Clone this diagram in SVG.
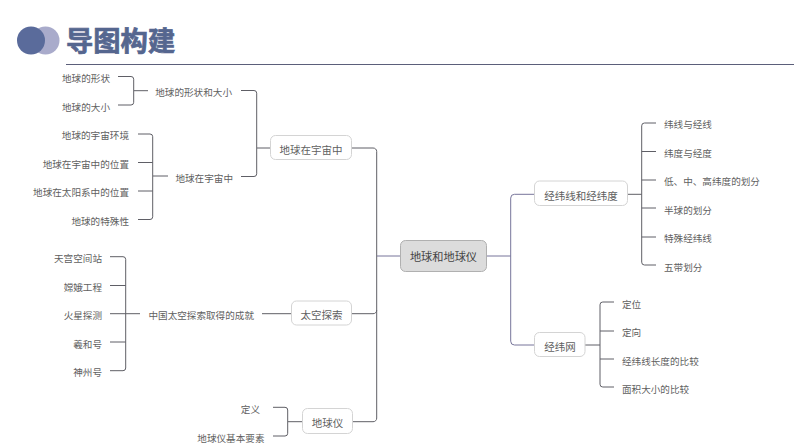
<svg xmlns="http://www.w3.org/2000/svg" width="794" height="447" viewBox="0 0 794 447">
<style>
text{font-family:"Noto Sans CJK SC","Noto Sans",sans-serif;fill:#5f5f5f;font-size:9.6px}
.r{text-anchor:end}
.m{text-anchor:middle;font-size:10.500px}
.n{fill:#fff;stroke:#d4d4d4;stroke-width:1}
#connectors path{fill:none;stroke:#5f5f66;stroke-width:1}
#connectors path.v{stroke:#77759a}
</style>
<rect width="794" height="447" fill="#fff"/>
<g id="title">
<circle cx="45.500" cy="40.500" r="14" fill="#a9abcb"/>
<circle cx="31" cy="40.500" r="14" fill="#5a6b9b"/>
<text x="66" y="51" style="font-size:27.300px;font-weight:700;fill:#55668f;stroke:#55668f;stroke-width:.7px">导图构建</text>
<path d="M66 64.500H794" stroke="#5b5f7a" stroke-width="1"/>
</g>
<g id="connectors">
<path d="M118 76.500H131a2.700 2.700 0 0 1 2.700 2.700V102.300a2.700 2.700 0 0 1-2.700 2.700H118M134 90.700H148"/>
<path d="M241 90.500H254a2.700 2.700 0 0 1 2.700 2.700V173.800a2.700 2.700 0 0 1-2.700 2.700H241M257 148H271"/>
<path d="M138 134H150a2.700 2.700 0 0 1 2.700 2.700V216.800a2.700 2.700 0 0 1-2.700 2.700H138M138 162.500H152.700M138 191H152.700M153 176H168"/>
<path d="M110 256.700H123a2.700 2.700 0 0 1 2.700 2.700V368a2.700 2.700 0 0 1-2.700 2.700H110M110 285.500H125.700M110 313.700H140M110 342H125.700"/>
<path d="M262 313.700H292"/>
<path d="M273 407.300H285a2.700 2.700 0 0 1 2.700 2.700V433.300a2.700 2.700 0 0 1-2.700 2.700H273M288 421.700H303"/>
<path d="M352 148H373a3.500 3.500 0 0 1 3.700 3.500V418a3.500 3.500 0 0 1-3.700 3.700H352M352 313.700H373a3.500 3.500 0 0 0 3.700-3.500"/>
<path class="v" d="M377 256H401"/>
<path class="v" d="M486 256H510.700M534.500 194.300H514.500a3.800 3.800 0 0 0-3.800 3.800V341.200a3.800 3.800 0 0 0 3.800 3.800H534.500"/>
<path d="M627.500 194.300H641.700M656 123H644.500a2.800 2.800 0 0 0-2.800 2.800V262.200a2.800 2.800 0 0 0 2.800 2.800H656M641.700 151.500H656M641.700 180H656M641.700 208H656M641.700 237H656"/>
<path d="M585 345H600M614 302H602.800a2.800 2.800 0 0 0-2.800 2.800V384.200a2.800 2.800 0 0 0 2.800 2.800H614M600 331H614M600 359H614"/>
</g>
<g id="root"><rect x="400.500" y="240.500" width="86" height="31" rx="5" fill="#dcdcdc" stroke="#b0b0b0"/><text x="443.500" y="261" class="m" style="font-size:11.200px;fill:#444">地球和地球仪</text></g>
<g id="n-universe"><rect class="n" x="270.500" y="135.500" width="81" height="24" rx="5"/><text x="311" y="154" class="m">地球在宇宙中</text></g>
<g id="n-space"><rect class="n" x="291.500" y="301" width="60" height="24" rx="5"/><text x="321.500" y="319" class="m">太空探索</text></g>
<g id="n-globe"><rect class="n" x="302.500" y="408.500" width="50" height="25" rx="5"/><text x="327.500" y="427" class="m">地球仪</text></g>
<g id="n-latlon"><rect class="n" x="534.500" y="181" width="93" height="24.500" rx="5"/><text x="581" y="200" class="m">经纬线和经纬度</text></g>
<g id="n-grid"><rect class="n" x="534.500" y="332.500" width="50.500" height="24" rx="5"/><text x="560" y="351" class="m">经纬网</text></g>
<g id="l1"><text x="110" y="82" class="r">地球的形状</text></g>
<g id="l2"><text x="110" y="110.500" class="r">地球的大小</text></g>
<g id="l3"><text x="232" y="96" class="r">地球的形状和大小</text></g>
<g id="l4"><text x="233" y="182" class="r">地球在宇宙中</text></g>
<g id="l5"><text x="129" y="139" class="r">地球的宇宙环境</text></g>
<g id="l6"><text x="129" y="167.500" class="r">地球在宇宙中的位置</text></g>
<g id="l7"><text x="129" y="196" class="r">地球在太阳系中的位置</text></g>
<g id="l8"><text x="129" y="224.500" class="r">地球的特殊性</text></g>
<g id="l9"><text x="102" y="262" class="r">天宫空间站</text></g>
<g id="l10"><text x="102" y="290.500" class="r">嫦娥工程</text></g>
<g id="l11"><text x="102" y="319" class="r">火星探测</text></g>
<g id="l12"><text x="102" y="347.500" class="r">羲和号</text></g>
<g id="l13"><text x="102" y="376" class="r">神州号</text></g>
<g id="l14"><text x="254" y="319" class="r">中国太空探索取得的成就</text></g>
<g id="l15"><text x="260" y="413" class="r">定义</text></g>
<g id="l16"><text x="264.500" y="441.500" class="r">地球仪基本要素</text></g>
<g id="r1"><text x="664" y="128">纬线与经线</text></g>
<g id="r2"><text x="664" y="156.500">纬度与经度</text></g>
<g id="r3"><text x="664" y="185">低、中、高纬度的划分</text></g>
<g id="r4"><text x="664" y="213.500">半球的划分</text></g>
<g id="r5"><text x="664" y="242">特殊经纬线</text></g>
<g id="r6"><text x="664" y="270.500">五带划分</text></g>
<g id="r7"><text x="622" y="307.500">定位</text></g>
<g id="r8"><text x="622" y="336">定向</text></g>
<g id="r9"><text x="622" y="364.500">经纬线长度的比较</text></g>
<g id="r10"><text x="622" y="393">面积大小的比较</text></g>
</svg>
